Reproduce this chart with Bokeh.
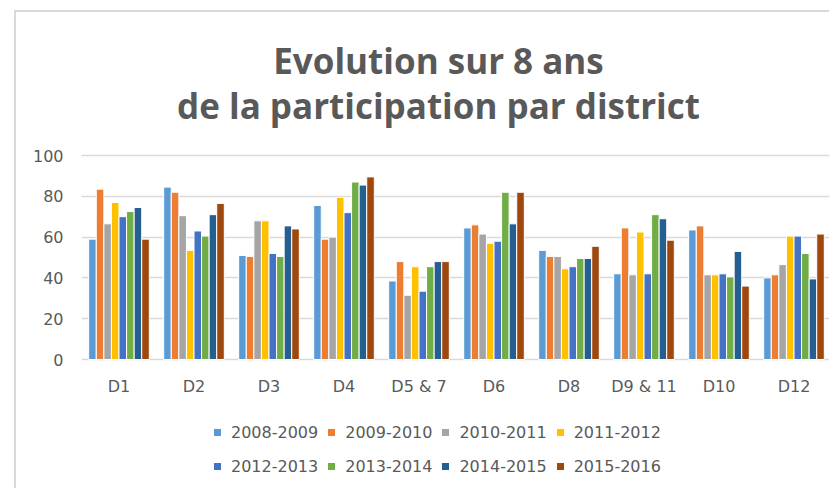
from bokeh.plotting import figure
from bokeh.models import (ColumnDataSource, FactorRange, Range1d, FixedTicker, Legend,
                          LegendItem, Label)
from bokeh.transform import dodge
from bokeh.embed import file_html
from bokeh.resources import INLINE

districts = ["D1", "D2", "D3", "D4", "D5 & 7", "D6", "D8", "D9 & 11", "D10", "D12"]
years = ["2008-2009", "2009-2010", "2010-2011", "2011-2012",
         "2012-2013", "2013-2014", "2014-2015", "2015-2016"]

v_2008_2009 = [59, 84.5, 51, 75.5, 38.5, 64.5, 53.5, 42, 63.5, 40]
v_2009_2010 = [83.5, 82, 50.5, 59, 48, 66, 50.5, 64.5, 65.5, 41.5]
v_2010_2011 = [66.5, 70.5, 68, 60, 31.5, 61.5, 50.5, 41.5, 41.5, 46.5]
v_2011_2012 = [77, 53.5, 68, 79.5, 45.5, 57, 44.5, 62.5, 41.5, 60.5]
v_2012_2013 = [70, 63, 52, 72, 33.5, 58, 45.5, 42, 42, 60.5]
v_2013_2014 = [72.5, 60.5, 50.5, 87, 45.5, 82, 49.5, 71, 40.5, 52]
v_2014_2015 = [74.5, 71, 65.5, 85.5, 48, 66.5, 49.5, 69, 53, 39.5]
v_2015_2016 = [59, 76.5, 64, 89.5, 48, 82, 55.5, 58.5, 36, 61.5]

series = [v_2008_2009, v_2009_2010, v_2010_2011, v_2011_2012,
          v_2012_2013, v_2013_2014, v_2014_2015, v_2015_2016]
colors = ["#5B9BD5", "#ED7D31", "#A5A5A5", "#FFC000",
          "#4472C4", "#70AD47", "#255E91", "#9E480E"]
y_ticks = [0, 20, 40, 60, 80, 100]
title_lines = ["Evolution sur 8 ans", "de la participation par district"]

data = {"district": districts}
for yr, vals in zip(years, series):
    data[yr] = vals
source = ColumnDataSource(data)

TXT = "#595959"
PX = 2.04                       # pixels per value unit
TOP_PX, ZERO_PX, H = 143, 347, 478
Y_TOP = 100 + TOP_PX / PX
Y_BOT = -(H - ZERO_PX) / PX

p = figure(x_range=FactorRange(*districts), y_range=Range1d(Y_BOT, Y_TOP),
           width=815, height=H, output_backend="svg", toolbar_location=None,
           x_axis_location=None,
           min_border_left=65, min_border_right=0, min_border_top=0,
           min_border_bottom=0)
p.styles = {"margin-left": "14px", "margin-top": "10px",
            "border-top": "2px solid #D9D9D9", "border-left": "2px solid #D9D9D9"}

bar_w = 0.101
renderers = []
for i, (yr, col) in enumerate(zip(years, colors)):
    r = p.vbar(x=dodge("district", (i - 3.5) * bar_w, range=p.x_range), top=yr,
               width=bar_w, source=source, fill_color=col, line_color="white",
               line_width=1)
    renderers.append(r)

# category labels under the bars
p.text(x="district", y=-13.2, text="district", source=source,
       text_align="center", text_baseline="middle", text_color=TXT,
       text_font={"value": "DejaVu Sans"}, text_font_size="16px")

p.outline_line_color = None
p.background_fill_color = "white"
p.border_fill_color = "white"

p.xgrid.grid_line_color = None
p.ygrid.grid_line_color = "#D9D9D9"
p.ygrid.grid_line_width = 1.5
p.yaxis.ticker = FixedTicker(ticks=y_ticks)
ax = p.yaxis[0]
ax.axis_line_color = None
ax.major_tick_line_color = None
ax.minor_tick_line_color = None
ax.major_tick_out = 0
ax.major_tick_in = 0
ax.minor_tick_out = 0
ax.major_label_text_color = TXT
ax.major_label_text_font = "DejaVu Sans"
ax.major_label_text_font_size = "16px"
ax.major_label_standoff = 18

leg = Legend(items=[LegendItem(label=years[i], renderers=[renderers[i]]) for i in range(8)],
             orientation="horizontal", ncols=4)
leg.location = (131, 11)
leg.border_line_color = None
leg.background_fill_alpha = 0
leg.label_text_color = TXT
leg.label_text_font = "DejaVu Sans"
leg.label_text_font_size = "16px"
leg.glyph_width = 10
leg.glyph_height = 10
leg.label_height = 26
leg.label_standoff = 9
leg.spacing = 8
leg.padding = 0
leg.margin = 0
p.add_layout(leg, "center")

# two-line title (baselines in px from the top of the canvas)
for txt, base_px in zip(title_lines, [48, 93]):
    p.add_layout(Label(x=4.76, y=100 + (TOP_PX - base_px) / PX, text=txt,
                       text_align="center", text_baseline="alphabetic",
                       text_font="Open Sans", text_font_size="35px",
                       text_font_style="bold", text_color=TXT))

open("out.html", "w").write(file_html(p, INLINE))
